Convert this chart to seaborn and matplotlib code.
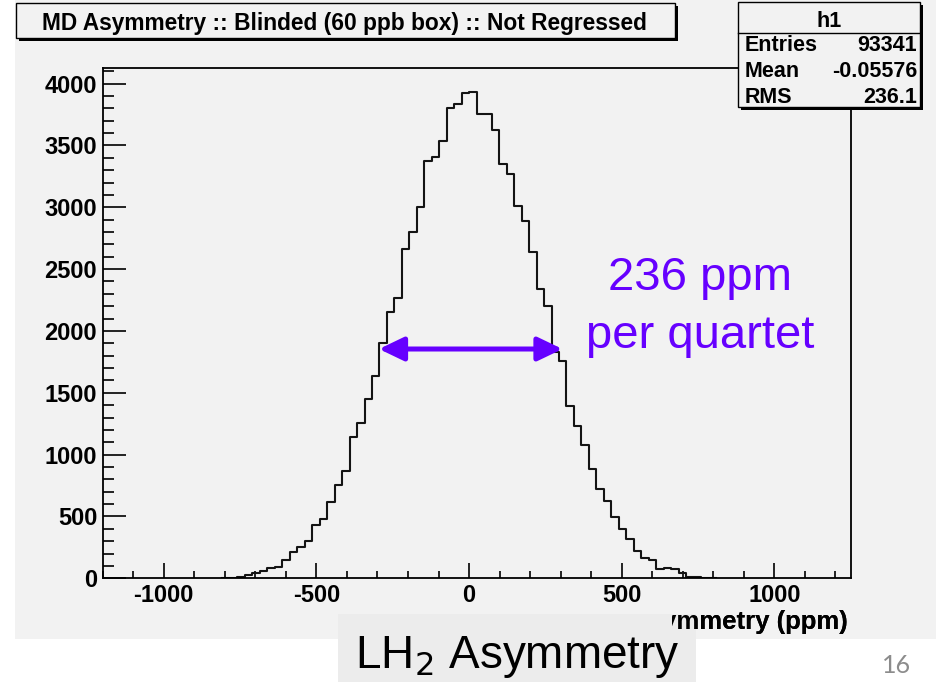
import numpy as np
import pandas as pd
import matplotlib
matplotlib.use("Agg")
import matplotlib.pyplot as plt
from matplotlib.patches import Rectangle
from matplotlib.ticker import MultipleLocator
from matplotlib.transforms import Bbox, TransformedBbox
import seaborn as sns

# ---------------- data ----------------
title = "MD Asymmetry :: Blinded (60 ppb box) :: Not Regressed"
x_label = "Asymmetry (ppm)"
hist_name = "h1"
stat_names = ["Entries", "Mean", "RMS"]
stat_values = ["93341", "-0.05576", "236.1"]
x_ticks = [-1000, -500, 0, 500, 1000]
y_ticks = [0, 500, 1000, 1500, 2000, 2500, 3000, 3500, 4000]
x_range = (-1200, 1250)
n_bins = 100
first_bin = 16          # index of the first filled bin
counts = [5, 5, 13, 27, 40, 61, 81, 94,
          148, 215, 256, 301, 431, 477, 619, 752, 868,
          1145, 1253, 1452, 1638, 1905, 2155, 2263, 2660, 2802, 3002,
          3376, 3406, 3538, 3799, 3834, 3922, 3932,
          3751, 3751, 3624, 3352, 3266, 3012, 2891, 2640, 2341, 2202,
          1832, 1753, 1395, 1231, 1078, 881, 726, 627, 495, 397,
          320, 223, 164, 148, 73, 81, 73, 43, 12, 12, 4, 4]
arrow_span = (-295, 306)
arrow_level = 1854
annot_lines = ["236 ppm", "per quartet"]
slide_caption = "LH$_2$ Asymmetry"
page_number = "16"

# ---------------- geometry helpers ----------------
W, H = 936, 682
def fx(x):
    return x / W
def fy(y):
    return 1 - y / H

CANVAS = "#f2f2f2"
CAPBOX = "#ececec"
PURPLE = "#6600ff"
FONT = "Liberation Sans"

fig = plt.figure(figsize=(W / 100, H / 100), dpi=100, facecolor="white")

# ROOT canvas background
fig.patches.append(Rectangle((fx(15), fy(639)), fx(936) - fx(15), fy(0) - fy(639),
                             transform=fig.transFigure, facecolor=CANVAS,
                             edgecolor="none", zorder=-10))

L, R, T, B = 102.7, 850.7, 67.7, 578.3
ax = fig.add_axes([fx(L), fy(B), (R - L) / W, (B - T) / H])
ax.set_facecolor(CANVAS)

full_edges = np.linspace(x_range[0], x_range[1], n_bins + 1)
edges = [float(e) for e in full_edges[first_bin:first_bin + len(counts) + 1]]
centers = [(a + b) / 2 for a, b in zip(edges[:-1], edges[1:])]
df = pd.DataFrame({"asym": centers, "n": counts})

sns.histplot(data=df, x="asym", weights="n", bins=edges, element="step",
             fill=False, color="#141414", linewidth=1.5, ax=ax)

ax.set_xlim(*x_range)
ax.set_ylim(0, max(counts) * 1.05)
ax.set_xlabel("")
ax.set_ylabel("")

ax.set_xticks(x_ticks, labels=[str(v) for v in x_ticks])
ax.set_yticks(y_ticks, labels=[str(v) for v in y_ticks])
ax.xaxis.set_minor_locator(MultipleLocator(100))
ax.yaxis.set_minor_locator(MultipleLocator(100))
ax.tick_params(axis="x", which="major", direction="in", length=10.8, width=1.2,
               pad=4, labelsize=17, colors="black")
ax.tick_params(axis="x", which="minor", direction="in", length=5.4, width=1.2)
ax.tick_params(axis="y", which="major", direction="in", length=16.5, width=1.2,
               pad=4, labelsize=17, colors="black")
ax.tick_params(axis="y", which="minor", direction="in", length=8, width=1.2)
for lab in ax.get_xticklabels() + ax.get_yticklabels():
    lab.set_fontweight("bold")
    lab.set_family(FONT)
for sp in ax.spines.values():
    sp.set_visible(True)
    sp.set_color("black")
    sp.set_linewidth(1.3)

# purple double arrow
ax.annotate("", xy=(arrow_span[1], arrow_level), xytext=(arrow_span[0], arrow_level),
            arrowprops=dict(arrowstyle="<|-|>,head_length=0.75,head_width=0.36",
                            mutation_scale=20, lw=3.6, color=PURPLE,
                            shrinkA=0, shrinkB=0))
fig.text(fx(700), fy(290), annot_lines[0], ha="center", va="baseline",
         fontsize=34, color=PURPLE, family=FONT)
fig.text(fx(700), fy(348), annot_lines[1], ha="center", va="baseline",
         fontsize=34, color=PURPLE, family=FONT)

# x axis title (right aligned, ROOT style); partly hidden by the caption box
def clip_fig(x0, x1, y0, y1):
    return TransformedBbox(Bbox.from_extents(fx(x0), fy(y1), fx(x1), fy(y0)),
                           fig.transFigure)

xl_under = fig.text(fx(848), fy(629), x_label, ha="right", va="baseline",
                    fontsize=18.5, fontweight="bold", family=FONT, zorder=3)
xl_under.set_clip_box(clip_fig(649, 936, 0, 682))
xl_under.set_clip_on(True)
xl_over = fig.text(fx(848), fy(629), x_label, ha="right", va="baseline",
                   fontsize=18.5, fontweight="bold", family=FONT, zorder=8)
xl_over.set_clip_box(clip_fig(672, 936, 0, 682))
xl_over.set_clip_on(True)

# title box with shadow
tx0, ty0, tx1, ty1 = 16, 3, 675, 38
fig.patches.append(Rectangle((fx(tx0 + 3), fy(ty1 + 3)), fx(tx1 - tx0), fy(ty0) - fy(ty1),
                             transform=fig.transFigure, facecolor="black",
                             edgecolor="none", zorder=4))
fig.patches.append(Rectangle((fx(tx0), fy(ty1)), fx(tx1 - tx0), fy(ty0) - fy(ty1),
                             transform=fig.transFigure, facecolor=CANVAS,
                             edgecolor="black", linewidth=1, zorder=5))
fig.text(fx(344), fy(30), title, ha="center", va="baseline", fontsize=16.4,
         fontweight="bold", family=FONT, zorder=6)

# stats box with shadow
sx0, sy0, sx1, sy1 = 738, 2, 920, 107
fig.patches.append(Rectangle((fx(sx0 + 3), fy(sy1 + 3)), fx(sx1 - sx0), fy(sy0) - fy(sy1),
                             transform=fig.transFigure, facecolor="black",
                             edgecolor="none", zorder=4))
fig.patches.append(Rectangle((fx(sx0), fy(sy1)), fx(sx1 - sx0), fy(sy0) - fy(sy1),
                             transform=fig.transFigure, facecolor=CANVAS,
                             edgecolor="black", linewidth=1, zorder=5))
fig.add_artist(plt.Line2D([fx(sx0), fx(sx1)], [fy(33), fy(33)], color="black",
                          linewidth=1, transform=fig.transFigure, zorder=6))
fig.text(fx((sx0 + sx1) / 2), fy(27), hist_name, ha="center", va="baseline",
         fontsize=15.5, fontweight="bold", family=FONT, zorder=6)
for i, (nm, val) in enumerate(zip(stat_names, stat_values)):
    yb = 51 + 26 * i
    fig.text(fx(745), fy(yb), nm, ha="left", va="baseline", fontsize=15.5,
             fontweight="bold", family=FONT, zorder=6)
    fig.text(fx(917), fy(yb), val, ha="right", va="baseline", fontsize=15.5,
             fontweight="bold", family=FONT, zorder=6)

# slide caption box
fig.patches.append(Rectangle((fx(338), fy(682)), fx(696 - 338), fy(614) - fy(682),
                             transform=fig.transFigure, facecolor=CAPBOX,
                             edgecolor="none", zorder=7))
fig.text(fx(517), fy(668), slide_caption, ha="center", va="baseline",
         fontsize=33, family=FONT, zorder=8)

# page number
fig.text(fx(897), fy(673), page_number, ha="center", va="baseline",
         fontsize=18, color="#8c8c8c", family="Lato", zorder=8)

fig.savefig("out.png", dpi=100, facecolor="white")
